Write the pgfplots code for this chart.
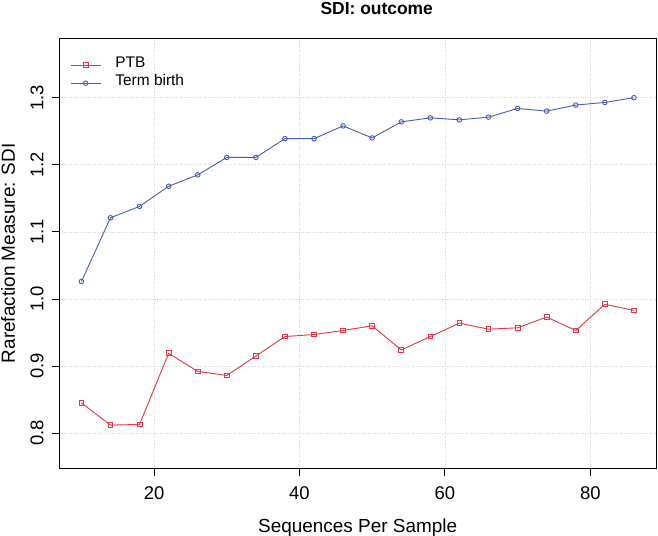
\documentclass[border=0pt]{standalone}
\usepackage{fontspec}
\setmainfont{Liberation Sans}
\usepackage{pgfplots}
\pgfplotsset{compat=1.18}
\definecolor{ptb}{RGB}{228,55,65}
\definecolor{term}{RGB}{70,95,175}
\begin{document}
\begin{tikzpicture}
\begin{axis}[
  scale only axis, width=596.7bp, height=430.7bp,
  xmin=6.96, xmax=89.04, ymin=0.747, ymax=1.389,
  xtick={20,40,60,80}, ytick={0.8,0.9,1.0,1.1,1.2,1.3},
  xtick pos=left, ytick pos=left,
  tick align=outside, major tick length=7bp,
  grid=major, grid style={dotted, black!16, line width=0.6bp},
  axis line style={line width=0.9bp},
  tick style={line width=0.8bp, black},
  /pgf/number format/assume math mode=true,
  ticklabel style={font=\fontsize{18.5}{20}\selectfont},
  yticklabel style={rotate=90, anchor=base, /pgf/number format/fixed, /pgf/number format/fixed zerofill, /pgf/number format/precision=1},
  xticklabel style={anchor=base},
  xticklabel shift=23.5bp,
  yticklabel shift=9bp,
  xlabel={Sequences Per Sample},
  ylabel={Rarefaction Measure: SDI},
  xlabel style={font=\fontsize{19}{22}\selectfont, at={(rel axis cs:0.5,0)}, anchor=base, yshift=-64bp},
  ylabel style={font=\fontsize{19}{22}\selectfont, at={(rel axis cs:0,0.5)}, anchor=base, rotate=0, yshift=44.3bp},
  title={\bfseries SDI: outcome},
  title style={font=\fontsize{17.5}{19}\selectfont, at={(rel axis cs:0.532,1)}, anchor=base, yshift=18bp},
  legend cell align=left,
  legend image code/.code={\draw[mark repeat=2,mark phase=2,#1] plot coordinates {(0bp,0bp)(15bp,0bp)(30bp,0bp)};},
  legend style={draw=none, fill=none, at={(rel axis cs:0,1)}, anchor=north west, xshift=10.7bp, yshift=-18bp,
    font=\fontsize{15.5}{18}\selectfont, inner sep=0pt, row sep=0pt,
    nodes={inner sep=0pt, text height=11bp, text depth=7bp},
    /tikz/every odd column/.append style={column sep=14.3bp}},
]
\addplot[color=ptb, line width=0.9bp, mark=square, mark size=2.4bp, mark options={line width=0.9bp}] coordinates {
(10,0.845) (14,0.812) (18,0.813) (22,0.919) (26,0.892) (30,0.886) (34,0.915) (38,0.944) (42,0.947) (46,0.953)
(50,0.960) (54,0.924) (58,0.944) (62,0.964) (66,0.955) (70,0.957) (74,0.973) (78,0.953) (82,0.992) (86,0.983)};
\addlegendentry{PTB}
\addplot[color=term, line width=0.9bp, mark=o, mark size=2.3bp, mark options={line width=0.9bp}] coordinates {
(10,1.026) (14,1.121) (18,1.138) (22,1.168) (26,1.185) (30,1.211) (34,1.211) (38,1.239) (42,1.239) (46,1.258)
(50,1.240) (54,1.264) (58,1.270) (62,1.267) (66,1.271) (70,1.284) (74,1.280) (78,1.289) (82,1.293) (86,1.300)};
\addlegendentry{Term birth}
\coordinate (bl) at (rel axis cs:0,0);
\end{axis}
\pgfresetboundingbox
\path[use as bounding box] ([shift={(-59.3bp,-67.3bp)}]bl) rectangle ++(658bp,536bp);
\end{tikzpicture}
\end{document}
